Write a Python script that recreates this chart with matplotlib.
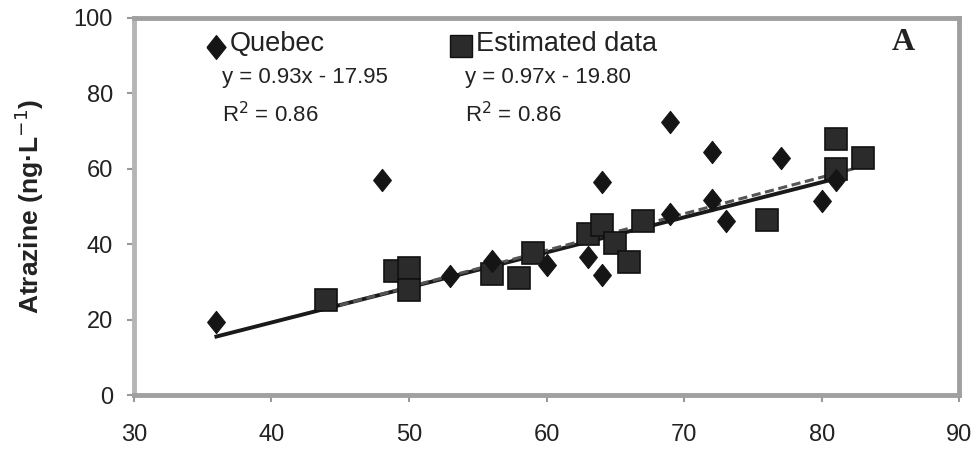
import numpy as np
import matplotlib
matplotlib.use('Agg')
import matplotlib.pyplot as plt

plt.rcParams['font.family'] = ['Liberation Sans', 'DejaVu Sans']

# Quebec measurements (diamonds)
quebec_x = [36, 48, 53, 56, 60, 63, 64, 64, 69, 69, 72, 72, 73, 77, 80, 81]
quebec_y = [19.5, 57, 31.5, 35.5, 34.5, 36.5, 56.5, 31.8, 72.5, 48, 64.5, 51.8, 46.3, 63, 51.5, 57]

# estimated data (squares)
est_x = [44, 49, 50, 50, 56, 58, 59, 63, 64, 65, 66, 67, 76, 81, 81, 83]
est_y = [25.2, 33, 33.8, 27.8, 32, 31, 37.8, 42.8, 45, 40.3, 35.2, 46.2, 46.5, 68, 60, 62.8]

# trend line coefficients
q_slope, q_icpt = 0.93, -17.95
e_slope, e_icpt = 0.97, -19.80

x_ticks = [30, 40, 50, 60, 70, 80, 90]
y_ticks = [0, 20, 40, 60, 80, 100]

# tall diamond (picture is stretched vertically)
diamond = [(-0.8, 0), (0, 1), (0.8, 0), (0, -1), (-0.8, 0)]

fig = plt.figure(figsize=(9.77, 4.5), dpi=100)
ax = fig.add_axes([0.137, 0.122, 0.845, 0.838])

# trend lines
xq = np.array([min(quebec_x), max(quebec_x)])
ax.plot(xq, q_slope * xq + q_icpt, color='#1a1a1a', lw=2.8, zorder=2)
xe = np.array([min(est_x), max(est_x)])
ax.plot(xe, e_slope * xe + e_icpt, color='#555555', lw=2.2, ls=(0, (3, 1.5)), zorder=2)

# points
ax.plot(est_x, est_y, ls='none', marker='s', ms=16, mfc='#2b2b2b', mec='#111111', mew=1.2, zorder=3)
ax.plot(quebec_x, quebec_y, ls='none', marker=diamond, ms=16, mfc='#151515', mec='#151515', mew=0.8, zorder=4)

ax.set_xlim(30, 90)
ax.set_ylim(0, 100)
ax.set_xticks(x_ticks)
ax.set_yticks(y_ticks)
ax.tick_params(axis='both', labelsize=17, colors='#999999', labelcolor='#222222', length=5, width=1.5)
ax.tick_params(axis='x', pad=16)
ax.tick_params(axis='y', pad=10)
for s in ax.spines.values():
    s.set_color('#a0a0a0')
    s.set_linewidth(3.5)
ax.spines['left'].set_color('#b5b5b5')

ax.set_ylabel('Atrazine (ng·L$^{-1}$)', fontsize=19, fontweight='bold', color='#222222', labelpad=20)

# legend-like labels
ax.plot([35.96], [92.3], ls='none', marker=diamond, ms=17, color='#151515', clip_on=False)
ax.text(37.0, 93.2, 'Quebec', fontsize=19.5, color='#222222', va='center')
ax.text(36.4, 84.2, 'y = 0.93x - 17.95', fontsize=16, color='#222222', va='center')
ax.text(36.4, 74.4, 'R$^2$ = 0.86', fontsize=16, color='#222222', va='center')
ax.plot([53.8], [92.6], ls='none', marker='s', ms=16, mfc='#2b2b2b', mec='#111111', clip_on=False)
ax.text(54.9, 93.2, 'Estimated data', fontsize=19.5, color='#222222', va='center')
ax.text(54.1, 84.2, 'y = 0.97x - 19.80', fontsize=16, color='#222222', va='center')
ax.text(54.1, 74.4, 'R$^2$ = 0.86', fontsize=16, color='#222222', va='center')
ax.text(85.9, 93.5, 'A', fontsize=23, fontweight='bold', family='Liberation Serif', color='#222222',
        ha='center', va='center')

fig.savefig('out.png', dpi=100)
